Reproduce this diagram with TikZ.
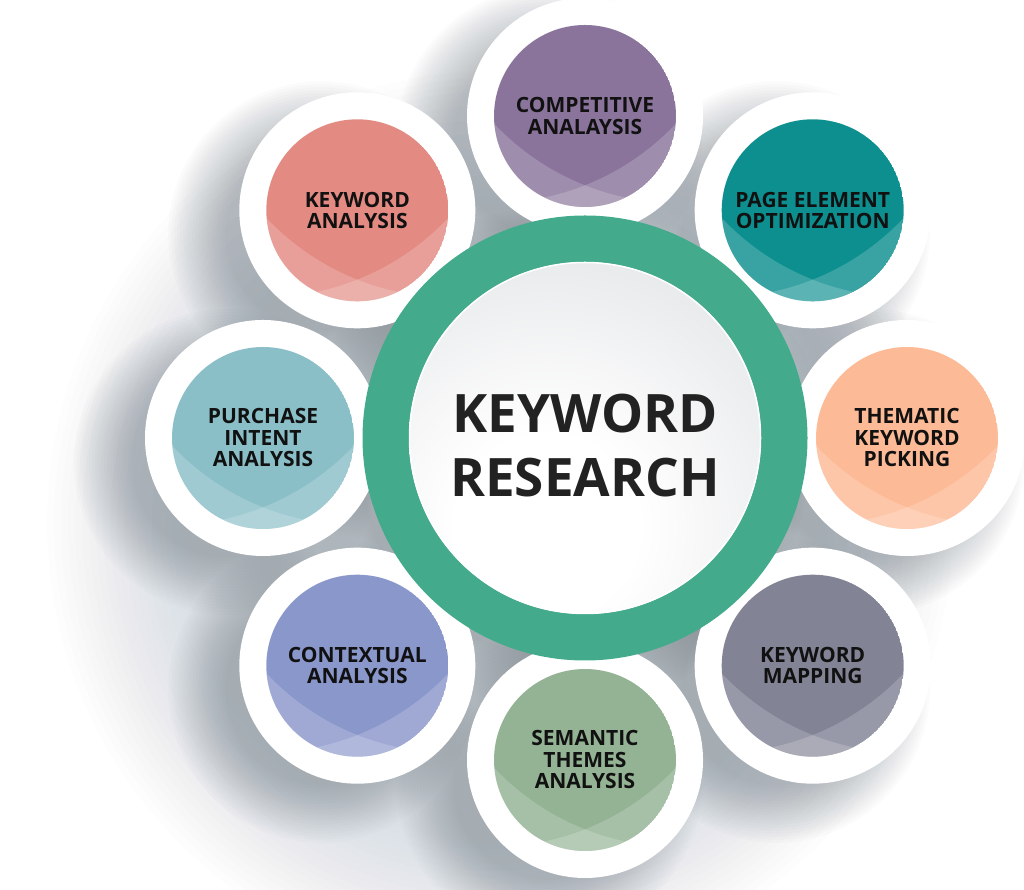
\documentclass[tikz,border=0pt]{standalone}
\usepackage{fontspec}
\setmainfont{Open Sans}
\definecolor{cA}{HTML}{8A749C}
\definecolor{cB}{HTML}{0E8F8F}
\definecolor{cC}{HTML}{FDBA96}
\definecolor{cD}{HTML}{828395}
\definecolor{cE}{HTML}{93B394}
\definecolor{cF}{HTML}{8A97CB}
\definecolor{cG}{HTML}{8BBFC8}
\definecolor{cH}{HTML}{E38B83}
\definecolor{ringgreen}{HTML}{43AA8B}
\definecolor{shadowcol}{HTML}{5E6A74}
\definecolor{glowedge}{HTML}{C4C8CB}
\definecolor{labtext}{HTML}{111111}
\definecolor{maintext}{HTML}{222222}
\pgfdeclareradialshading{centerglow}{\pgfpoint{0bp}{0bp}}{color(0bp)=(white); color(8bp)=(white); color(50bp)=(glowedge)}
\tikzset{
  lab/.style={align=center, text=labtext, font=\bfseries\fontsize{21}{21.5}\selectfont, inner sep=0pt},
  mainlab/.style={align=center, text=maintext, font=\bfseries\fontsize{53}{64}\selectfont, inner sep=0pt},
  whitedisk/.style={fill=white},
  shadowlayer/.style={fill=shadowcol, opacity=.022},
  faintlayer/.style={fill=shadowcol, opacity=.009},
  lighten/.style={fill=white, opacity=.18, even odd rule}
}
\def\sats{90/comp/cA/{COMPETITIVE\\ANALAYSIS},
45/page/cB/{PAGE ELEMENT\\OPTIMIZATION},
0/them/cC/{THEMATIC\\KEYWORD\\PICKING},
-45/kmap/cD/{KEYWORD\\MAPPING},
-90/sem/cE/{SEMANTIC\\THEMES\\ANALYSIS},
-135/ctx/cF/{CONTEXTUAL\\ANALYSIS},
180/pur/cG/{PURCHASE\\INTENT\\ANALYSIS},
135/kwa/cH/{KEYWORD\\ANALYSIS}}
\begin{document}
\begin{tikzpicture}[x=1pt,y=1pt]
\useasboundingbox (0,0) rectangle (1024,890);
\fill[white] (0,0) rectangle (1024,890);
\coordinate (C) at (585,452);
% satellite positions
\foreach \a/\n/\c/\txt in \sats {
  \coordinate (P\n) at ([shift={(\a:322)}]C);
}
% broad faint shadow of the whole group, towards the lower left
\foreach \k in {0,...,19} {
  \fill[faintlayer] ([shift={(-85,-85)}]C) circle ({320pt+7pt*\k});
}
% soft shadows of each disk
\foreach \a/\n/\c/\txt in \sats {
  \foreach \k in {0,...,19} {
    \fill[shadowlayer] ([shift={(-36,-24)}]P\n) circle ({96pt+3pt*\k});
  }
}
\foreach \k in {0,...,19} {
  \fill[shadowlayer] ([shift={(-30,-22)}]C) circle ({196pt+3pt*\k});
}
% white disks
\foreach \a/\n/\c/\txt in \sats {
  \fill[whitedisk] (P\n) circle (118pt);
}
% central ring and inner circle
\fill[ringgreen, even odd rule] (C) circle (222.5pt) (C) circle (176pt);
\begin{scope}
  \clip (C) circle (176pt);
  \shade[shading=centerglow] ([shift={(-38,-89)}]C) circle (285pt);
\end{scope}
\draw[white, line width=1.5pt] (C) circle (175.5pt);
% coloured disks
\foreach \a/\n/\c/\txt in \sats {
  \begin{scope}
    \clip (P\n) circle (91pt);
    \fill[\c] (P\n) circle (91pt);
    \fill[lighten] (P\n) circle (91pt) ([shift={(93,166)}]P\n) circle (253pt);
    \fill[lighten] (P\n) circle (91pt) ([shift={(-93,166)}]P\n) circle (253pt);
  \end{scope}
  \node[lab] (\n) at (P\n) {\txt};
}
\node[mainlab] (kr) at ([shift={(0,-8)}]C) {KEYWORD\\RESEARCH};
\end{tikzpicture}
\end{document}
